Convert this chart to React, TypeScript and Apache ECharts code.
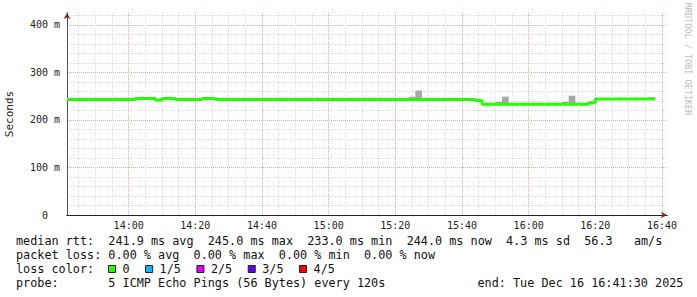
import React, { useEffect, useRef } from "react";
import * as echarts from "echarts";

// ---- data ----
const startTime = "13:41:30";
const endTime = "16:41:30";
const yTickValues = [0, 100, 200, 300, 400];

// median rtt (ms), held from each start time until the next
const medianStarts = ["13:41:30", "14:02", "14:08", "14:10", "14:14", "14:22", "14:26", "15:44", "15:46", "16:18", "16:20"];
const medianValues = [243, 245, 242, 245, 243, 245, 243, 241, 233, 236, 244];
const medianEnd = "16:38";

// smoke (spread of pings)
const smokeStarts = ["15:24", "15:26", "15:50", "15:52", "16:10", "16:12", "16:36"];
const smokeEnds = ["15:26", "15:28", "15:52", "15:54", "16:12", "16:14", "16:38"];
const smokeLow = [243, 243, 233, 233, 233, 233, 244];
const smokeHigh = [249, 262, 238, 249, 238, 251, 248];

const lossLabels = ["0", "1/5", "2/5", "3/5", "4/5"];
const lossColors = ["#26ff00", "#00b8ff", "#dd00ff", "#5e00ff", "#ff0000"];

const line1 = "median rtt:  241.9 ms avg  245.0 ms max  233.0 ms min  244.0 ms now  4.3 ms sd  56.3   am/s";
const line2 = "packet loss: 0.00 % avg  0.00 % max  0.00 % min  0.00 % now";
const line3 = "loss color:";
const line4 = "probe:       5 ICMP Echo Pings (56 Bytes) every 120s";
const endLabel = "end: Tue Dec 16 16:41:30 2025";
const watermark = "RRDTOOL / TOBI OETIKER";
const yTitle = "Seconds";

function toMin(s: string): number {
  const p = s.split(":").map(Number);
  return p[0] * 60 + p[1] + (p[2] || 0) / 60;
}
function fmt(v: number): string {
  const h = Math.floor(v / 60);
  const m = Math.round(v - h * 60);
  return String(h).padStart(2, "0") + ":" + String(m).padStart(2, "0");
}

const MONO = "DejaVu Sans Mono";

export default function App() {
  const ref = useRef<HTMLDivElement>(null);
  useEffect(() => {
    if (!ref.current) return;
    const chart = echarts.init(ref.current, null, { renderer: "svg" });
    const xMin = toMin(startTime);
    const xMax = toMin(endTime);

    const medianData: number[][] = medianStarts.map((s, i) => [toMin(s), medianValues[i]]);
    medianData.push([toMin(medianEnd), medianValues[medianValues.length - 1]]);
    const smokeData = smokeStarts.map((s, i) => [toMin(s), toMin(smokeEnds[i]), smokeLow[i], smokeHigh[i]]);

    const minorLine = { show: true, showMinLine: false, showMaxLine: false, lineStyle: { color: "#dcdcdc", type: [1, 1] as any, width: 1 } };
    const majorLine = { show: true, showMinLine: false, showMaxLine: false, lineStyle: { color: "#eaa8a8", type: [1, 1] as any, width: 1 } };

    const fs = 11.8;
    const legendX = 16;
    const cw = fs * 0.602;
    const graphics: any[] = [
      { type: "text", left: legendX, top: 235, style: { text: line1, font: `${fs}px '${MONO}'`, fill: "#111" } },
      { type: "text", left: legendX, top: 249, style: { text: line2, font: `${fs}px '${MONO}'`, fill: "#111" } },
      { type: "text", left: legendX, top: 263, style: { text: line3, font: `${fs}px '${MONO}'`, fill: "#111" } },
      { type: "text", left: legendX, top: 277, style: { text: line4, font: `${fs}px '${MONO}'`, fill: "#111" } },
      { type: "text", left: 477.5, top: 277, style: { text: endLabel, font: `${fs}px '${MONO}'`, fill: "#111" } },
      {
        type: "text", x: 688, y: 59, rotation: -Math.PI / 2,
        style: { text: watermark, font: `8.5px '${MONO}'`, fill: "#bdbdbd", align: "center", verticalAlign: "middle" },
      },
    ];
    let lx = 108.5;
    lossLabels.forEach((lab, i) => {
      graphics.push({ type: "rect", shape: { x: lx, y: 265.5, width: 7, height: 7 }, style: { fill: lossColors[i], stroke: "#222", lineWidth: 1 } });
      graphics.push({ type: "text", left: lx + 14, top: 263, style: { text: lab, font: `${fs}px '${MONO}'`, fill: "#111" } });
      lx = lx + 14 + lab.length * cw + 16;
    });

    chart.setOption({
      animation: false,
      backgroundColor: "#ffffff",
      grid: { left: 67, right: 30, top: 13, height: 202, containLabel: false, outerBoundsMode: "none" },
      xAxis: [
        {
          type: "value", position: "bottom", offset: 0, min: xMin, max: xMax, splitNumber: 36,
          axisLine: { show: false }, axisTick: { show: false }, axisLabel: { show: false },
          splitLine: minorLine,
        },
        {
          type: "value", position: "bottom", offset: 0, min: xMin, max: xMax, splitNumber: 9,
          axisLine: { show: true, onZero: false, lineStyle: { color: "#8a1c1c", width: 1 }, symbol: ["none", "arrow"], symbolSize: [5, 6] },
          axisTick: { show: false },
          axisLabel: {
            showMinLabel: false, showMaxLabel: false, margin: 5,
            formatter: (v: number) => fmt(v),
            fontFamily: MONO, fontSize: 10, color: "#222",
          },
          splitLine: majorLine,
        },
        {
          type: "value", position: "bottom", offset: 0, min: xMin, max: xMax, splitNumber: 9,
          axisLine: { show: true, onZero: false, lineStyle: { color: "#222", width: 1 } },
          axisTick: { show: false }, axisLabel: { show: false }, splitLine: { show: false },
        },
      ],
      yAxis: [
        {
          type: "value", position: "left", offset: 0, min: 0, max: 425, interval: 20,
          axisLine: { show: false }, axisTick: { show: false }, axisLabel: { show: false },
          splitLine: minorLine,
        },
        {
          type: "value", position: "left", offset: 0, min: 0, max: 425, interval: 100,
          name: yTitle, nameLocation: "middle", nameGap: 52,
          nameTextStyle: { fontFamily: MONO, fontSize: 11, color: "#222" },
          axisLine: { show: true, onZero: false, lineStyle: { color: "#8a1c1c", width: 1 }, symbol: ["none", "arrow"], symbolSize: [5, 6] },
          axisTick: { show: false },
          axisLabel: {
            margin: 7,
            formatter: (v: number) => (v === 0 ? "{z|0}" : `${v} m`),
            rich: { z: { padding: [0, 12, 0, 0], fontFamily: MONO, fontSize: 10, color: "#222" } },
            fontFamily: MONO, fontSize: 10, color: "#222",
            customValues: yTickValues,
          },
          splitLine: majorLine,
        },
        {
          type: "value", position: "left", offset: 0, min: 0, max: 425, interval: 100,
          axisLine: { show: true, onZero: false, lineStyle: { color: "#555", width: 1 } },
          axisTick: { show: false }, axisLabel: { show: false }, splitLine: { show: false },
        },
      ],
      series: [
        {
          type: "custom",
          xAxisIndex: 1, yAxisIndex: 1,
          data: smokeData,
          encode: { x: [0, 1], y: [2, 3] },
          renderItem: (params: any, api: any) => {
            const p1 = api.coord([api.value(0), api.value(3)]);
            const p2 = api.coord([api.value(1), api.value(2)]);
            return {
              type: "rect",
              shape: { x: p1[0], y: p1[1], width: p2[0] - p1[0], height: p2[1] - p1[1] },
              style: { fill: "#a8a8a8" },
            };
          },
          z: 2,
        },
        {
          type: "line",
          xAxisIndex: 1, yAxisIndex: 1,
          data: medianData,
          step: "end",
          symbol: "none",
          lineStyle: { color: "#26ff00", width: 3 },
          z: 3,
        },
      ],
      graphic: graphics,
    });
    return () => chart.dispose();
  }, []);
  return <div ref={ref} style={{ position: "fixed", left: 0, top: 0, width: 697, height: 297 }} />;
}
